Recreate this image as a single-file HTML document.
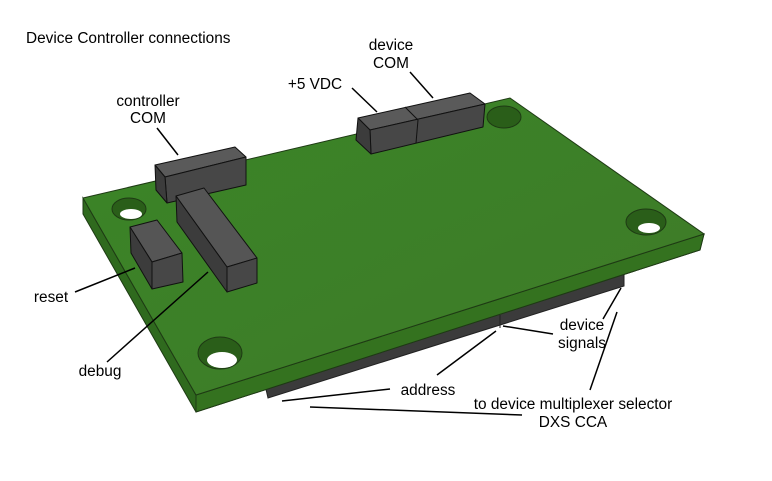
<!DOCTYPE html>
<html><head><meta charset="utf-8"><style>
html,body{margin:0;padding:0;background:#fff;}
svg{display:block;}
text{font-family:"Liberation Sans",sans-serif;font-size:15.4px;fill:#000;}
</style></head><body>
<svg width="772" height="481" viewBox="0 0 772 481">
<defs>
<linearGradient id="g" x1="0" y1="0" x2="1" y2="1">
<stop offset="0" stop-color="#3a8527"/><stop offset="1" stop-color="#3f7a28"/>
</linearGradient>
</defs>
<text x="26" y="43">Device Controller connections</text>
<polygon points="265,385 624,272 624,286 268,398" fill="#3b3b3b" stroke="#222" stroke-width="1"/>
<line x1="500" y1="315" x2="500" y2="328" stroke="#222"/>
<polygon points="83,198 196,395 704,234 700,250 196,412 83,214" fill="#2f6a1e" stroke="#1e3a14" stroke-width="1"/>
<polygon points="196,395 704,234 700,250 196,412" fill="#34721f" stroke="#1e3a14" stroke-width="1"/>
<polygon points="83,198 510,98 704,234 196,395" fill="url(#g)" stroke="#1e3a14" stroke-width="1"/>
<g stroke="#1e3a14" stroke-width="1">
<ellipse cx="129" cy="209" rx="17" ry="11" fill="#2a5e19"/>
<ellipse cx="504" cy="117" rx="17" ry="11" fill="#2a5e19"/>
<ellipse cx="646" cy="222" rx="20" ry="13" fill="#2a5e19"/>
<ellipse cx="220" cy="353" rx="22" ry="16" fill="#2a5e19"/>
</g>
<ellipse cx="131" cy="214" rx="11" ry="5" fill="#fff"/>
<ellipse cx="649" cy="228" rx="11" ry="5" fill="#fff"/>
<ellipse cx="222" cy="360" rx="15" ry="8" fill="#fff"/>
<g stroke="#111" stroke-width="1" stroke-linejoin="round">
<polygon points="155,165 235,147 246,157 165,177" fill="#5a5a5a"/>
<polygon points="165,177 246,157 246,185 167,203" fill="#474747"/>
<polygon points="155,165 165,177 167,203 156,190" fill="#3c3c3c"/>
<polygon points="176,196 204,188 257,258 227,267" fill="#555"/>
<polygon points="227,267 257,258 257,283 227,292" fill="#474747"/>
<polygon points="176,196 227,267 227,292 177,222" fill="#3c3c3c"/>
<polygon points="130,227 157,220 182,253 152,262" fill="#555"/>
<polygon points="152,262 182,253 183,282 152,289" fill="#474747"/>
<polygon points="130,227 152,262 152,289 131,253" fill="#3c3c3c"/>
<polygon points="358,118 470,93 485,104 370,130" fill="#5a5a5a"/>
<polygon points="370,130 485,104 483,127 371,154" fill="#474747"/>
<polygon points="358,118 370,130 371,154 356,140" fill="#3c3c3c"/>
<line x1="405" y1="107" x2="418" y2="120"/>
<line x1="418" y1="120" x2="416" y2="143"/>
</g>
<g stroke="#000" stroke-width="1.5">
<line x1="157" y1="128" x2="178" y2="155"/>
<line x1="352" y1="88" x2="377" y2="112"/>
<line x1="410" y1="72" x2="433" y2="98"/>
<line x1="75" y1="292" x2="135" y2="268"/>
<line x1="107" y1="362" x2="208" y2="272"/>
<line x1="282" y1="401" x2="390" y2="389"/>
<line x1="437" y1="375" x2="496" y2="331"/>
<line x1="503" y1="326" x2="553" y2="334"/>
<line x1="603" y1="319" x2="621" y2="288"/>
<line x1="590" y1="390" x2="617" y2="312"/>
<line x1="310" y1="407" x2="522" y2="415"/>
</g>
<g text-anchor="middle">
<text x="148" y="106">controller</text>
<text x="148" y="123">COM</text>
<text x="391" y="50">device</text>
<text x="391" y="68">COM</text>
<text x="315" y="89">+5 VDC</text>
<text x="51" y="302">reset</text>
<text x="100" y="376">debug</text>
<text x="428" y="395">address</text>
<text x="582" y="330">device</text>
<text x="582" y="348">signals</text>
<text x="573" y="409">to device multiplexer selector</text>
<text x="573" y="427">DXS CCA</text>
</g>
</svg>
</body></html>
